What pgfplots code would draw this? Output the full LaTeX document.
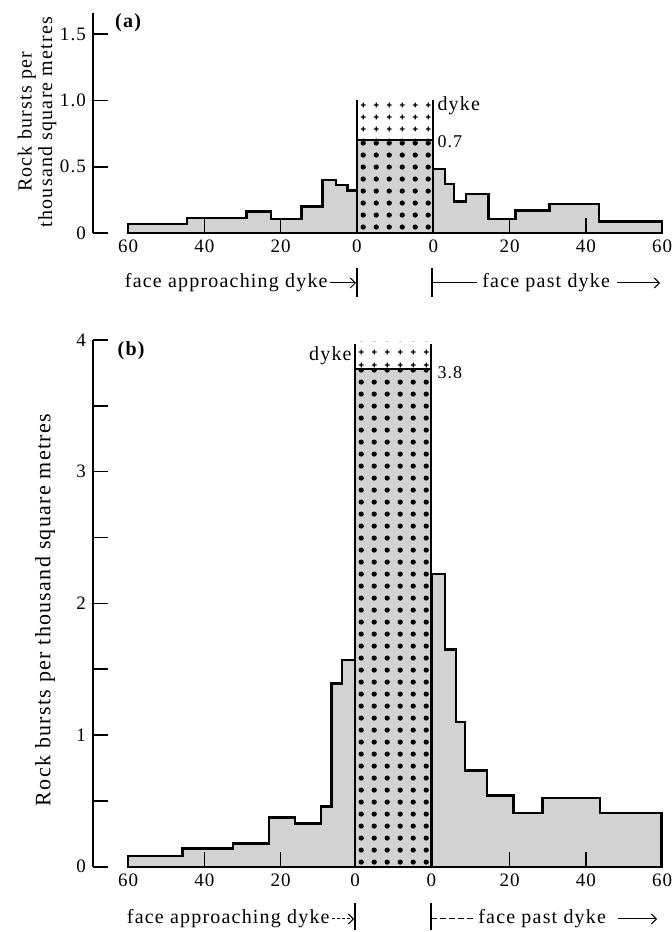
\documentclass[border=0pt]{standalone}
\usepackage{fontspec}
\setmainfont{Liberation Serif}[LetterSpace=6]
\usepackage{pgfplots}
\pgfplotsset{compat=1.18}
\usetikzlibrary{patterns.meta,arrows.meta}

\tikzdeclarepattern{name=dotsA, type=uncolored,
  bounding box={(0pt,0pt) and (6.333pt,6.2pt)}, tile size={(6.333pt,6.2pt)},
  tile transformation={shift={(178.5pt,349.5pt)}},
  code={\fill (3.1667pt,3.1pt) circle [radius=1.35pt];}}
\tikzdeclarepattern{name=plusA, type=uncolored,
  bounding box={(0pt,0pt) and (6.333pt,6.2pt)}, tile size={(6.333pt,6.2pt)},
  tile transformation={shift={(178.5pt,349.5pt)}},
  code={\draw[line width=0.6pt] (1.9667pt,3.1pt) -- (4.3667pt,3.1pt) (3.1667pt,1.9pt) -- (3.1667pt,4.3pt);}}
\tikzdeclarepattern{name=dotsB, type=uncolored,
  bounding box={(0pt,0pt) and (6.333pt,6.2pt)}, tile size={(6.333pt,6.2pt)},
  tile transformation={shift={(177.5pt,32.65pt)}},
  code={\fill (3.1667pt,3.1pt) circle [radius=1.35pt];}}
\tikzdeclarepattern{name=plusB, type=uncolored,
  bounding box={(0pt,0pt) and (6.333pt,6.2pt)}, tile size={(6.333pt,6.2pt)},
  tile transformation={shift={(177.5pt,32.65pt)}},
  code={\draw[line width=0.6pt] (1.9667pt,3.1pt) -- (4.3667pt,3.1pt) (3.1667pt,1.9pt) -- (3.1667pt,4.3pt);}}

\pgfplotsset{
  rockaxis/.style={
    scale only axis, width=286.5pt,
    xmin=-9.2, xmax=141, ymin=0,
    axis lines=left, axis line style={-, line width=0.7pt},
    x axis line style={draw=none},
    axis on top,
    tick align=inside, major tick length=7.5pt, minor tick length=7.5pt,
    tick style={black, line width=0.8pt},
    xtick={20,40,100,120}, xticklabels={40,20,20,40},
    extra x tick labels={60,0,0,60},
    extra x tick style={major tick length=0pt},
    ticklabel style={font=\fontsize{9.5}{9.5}\selectfont},
    /pgf/number format/assume math mode=true,
    clip=false,
  },
  hist/.style={const plot, fill=gray!35, draw=black, line width=1.2pt, line join=miter},
}

\begin{document}
\begin{tikzpicture}
\useasboundingbox (0,0) rectangle (335.5pt,466pt);

% ---------------- panel (a)
\begin{axis}[rockaxis, at={(46.5pt,349.5pt)}, anchor=south west,
  height=110pt, ymax=1.66,
  extra x ticks={0,60,80,140},
  ytick={0,0.5,1,1.5}, yticklabels={0,0.5,1.0,1.5}]
% face approaching dyke (distance 60 ... 0  ->  u = 60 - d)
\addplot[hist] coordinates {(0,0.0675) (15.5,0.1125) (31,0.1625) (37.5,0.1075)
  (45.5,0.20) (51,0.40) (54.5,0.3625) (57.5,0.32) (60,0.32)} \closedcycle;
% face past dyke (u = 80 + d)
\addplot[hist] coordinates {(80,0.4825) (83,0.3675) (85.5,0.2375) (88.5,0.2925)
  (94.5,0.1075) (101.5,0.17) (110.5,0.22) (123.5,0.0875) (140,0.0875)} \closedcycle;
% dyke
\addplot[fill=gray!35, draw=none] coordinates {(60,0) (60,0.7) (80,0.7) (80,0) (60,0)};
\addplot[draw=none, pattern=dotsA, pattern color=black] coordinates {(60,0) (60,0.68) (80,0.68) (80,0) (60,0)};
\addplot[draw=none, pattern=plusA, pattern color=black] coordinates {(60,0.68) (60,1.0) (80,1.0) (80,0.68) (60,0.68)};
\addplot[black, line width=1.2pt] coordinates {(60,0.7) (80,0.7)};
\addplot[black, line width=1.2pt] coordinates {(60,0) (80,0)};
\addplot[black, line width=1pt] coordinates {(60,0) (60,1.0)};
\addplot[black, line width=1pt] coordinates {(80,0) (80,1.0)};
\node[anchor=west, inner sep=0pt, font=\fontsize{10}{10}\selectfont] at (axis cs:81,0.957) {dyke};
\node[anchor=west, inner sep=0pt, font=\fontsize{9}{9}\selectfont] at (axis cs:81,0.686) {0.7};
\node[font=\fontsize{10}{10}\selectfont\bfseries] at (axis cs:0,1.59) {(a)};
\end{axis}

\node[rotate=90, align=center, font=\fontsize{10}{10.2}\selectfont] at (18.5pt,405pt)
  {Rock bursts per\\thousand square metres};

% bottom labels (a)
\node[anchor=base east, inner sep=0pt, font=\fontsize{10}{10}\selectfont] at (164pt,322pt) {face approaching dyke};
\draw[line width=0.5pt, -{Straight Barb[length=2.5pt,width=5pt]}] (165pt,324.5pt) -- (178pt,324.5pt);
\draw[line width=0.6pt] (178.5pt,317.5pt) -- (178.5pt,332pt);
\draw[line width=0.6pt] (216pt,317.5pt) -- (216pt,332pt);
\draw[line width=0.5pt] (216pt,324.5pt) -- (238.5pt,324.5pt);
\node[anchor=base west, inner sep=0pt, font=\fontsize{10}{10}\selectfont] at (241pt,322pt) {face past dyke};
\draw[line width=0.5pt, -{Straight Barb[length=2.5pt,width=5pt]}] (308.5pt,324.5pt) -- (330pt,324.5pt);

% ---------------- panel (b)
\begin{axis}[rockaxis, at={(46.5pt,32.65pt)}, anchor=south west,
  height=263.35pt, ymax=4,
  extra x ticks={0,59.5,79.5,140},
  ytick={0,1,2,3,4}, minor y tick num=1]
\addplot[hist] coordinates {(0,0.081) (14.3,0.139) (27.5,0.177) (37,0.375)
  (43.8,0.329) (50.5,0.456) (53.3,1.392) (56,1.57) (59.5,1.57)} \closedcycle;
\addplot[hist] coordinates {(79.5,2.222) (83.1,1.65) (86,1.10) (88.3,0.73)
  (94,0.54) (101,0.41) (108.6,0.52) (123.7,0.41) (139.8,0.41)} \closedcycle;
\addplot[fill=gray!35, draw=none] coordinates {(59.5,0) (59.5,3.78) (79.5,3.78) (79.5,0) (59.5,0)};
\addplot[draw=none, pattern=dotsB, pattern color=black] coordinates {(59.5,0) (59.5,3.765) (79.5,3.765) (79.5,0) (59.5,0)};
\addplot[draw=none, pattern=plusB, pattern color=black] coordinates {(59.5,3.785) (59.5,3.99) (79.5,3.99) (79.5,3.785) (59.5,3.785)};
\addplot[black, line width=1.2pt] coordinates {(59.5,3.78) (79.5,3.78)};
\addplot[black, line width=1.2pt] coordinates {(59.5,0) (79.5,0)};
\addplot[black, line width=1pt] coordinates {(59.5,0) (59.5,3.97)};
\addplot[black, line width=1pt] coordinates {(79.5,0) (79.5,3.97)};
\node[anchor=east, inner sep=0pt, font=\fontsize{10}{10}\selectfont] at (axis cs:58.7,3.88) {dyke};
\node[anchor=west, inner sep=0pt, font=\fontsize{9}{9}\selectfont] at (axis cs:81,3.75) {3.8};
\node[font=\fontsize{10}{10}\selectfont\bfseries] at (axis cs:0.8,3.92) {(b)};
\end{axis}

\node[rotate=90, font=\fontsize{11}{11}\selectfont] at (22.5pt,161pt)
  {Rock bursts per thousand square metres};

% bottom labels (b)
\node[anchor=base east, inner sep=0pt, font=\fontsize{10}{10}\selectfont] at (165pt,4.5pt) {face approaching dyke};
\draw[line width=0.5pt, dash pattern=on 1.5pt off 1pt, -{Straight Barb[length=2.5pt,width=5pt]}] (166pt,6.5pt) -- (177pt,6.5pt);
\draw[line width=0.6pt] (177.5pt,1pt) -- (177.5pt,14.5pt);
\draw[line width=0.6pt] (215.5pt,1pt) -- (215.5pt,14.5pt);
\draw[line width=0.5pt, dash pattern=on 3pt off 1.5pt] (215.5pt,6.5pt) -- (237.5pt,6.5pt);
\node[anchor=base west, inner sep=0pt, font=\fontsize{10}{10}\selectfont] at (239pt,4.5pt) {face past dyke};
\draw[line width=0.5pt, -{Straight Barb[length=2.5pt,width=5pt]}] (309pt,6.5pt) -- (328.5pt,6.5pt);
\end{tikzpicture}
\end{document}
